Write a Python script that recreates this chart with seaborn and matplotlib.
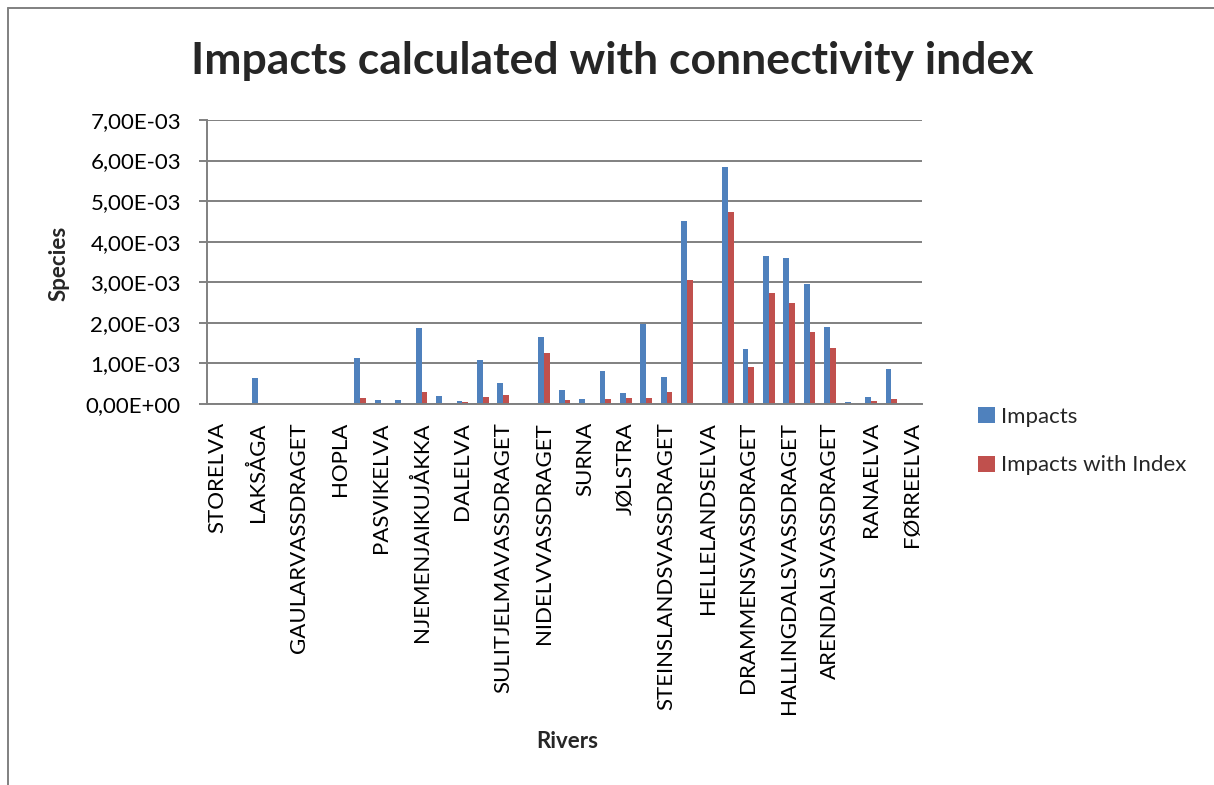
import matplotlib
matplotlib.use("Agg")
import matplotlib.pyplot as plt
from matplotlib.lines import Line2D
from matplotlib.patches import Patch
from matplotlib.ticker import FuncFormatter, MultipleLocator
import seaborn as sns
import pandas as pd

# River names printed under every second bar group
river_labels = [
    "STORELVA", "LAKSÅGA", "GAULARVASSDRAGET", "HOPLA", "PASVIKELVA",
    "NJEMENJAIKUJÅKKA", "DALELVA", "SULITJELMAVASSDRAGET", "NIDELVVASSDRAGET",
    "SURNA", "JØLSTRA", "STEINSLANDSVASSDRAGET", "HELLELANDSELVA",
    "DRAMMENSVASSDRAGET", "HALLINGDALSVASSDRAGET", "ARENDALSVASSDRAGET",
    "RANAELVA", "FØRREELVA",
]

# Impacts per river slot (35 rivers in chart order)
impacts = [
    1.0e-5, 0.0, 6.3e-4, 0.0, 0.0, 0.0, 0.0, 1.13e-3, 9.0e-5, 1.0e-4,
    1.87e-3, 2.0e-4, 8.0e-5, 1.09e-3, 5.1e-4, 2.5e-5, 1.66e-3, 3.5e-4,
    1.3e-4, 8.1e-4, 2.6e-4, 1.96e-3, 6.7e-4, 4.5e-3, 2.5e-5, 5.85e-3,
    1.35e-3, 3.65e-3, 3.59e-3, 2.97e-3, 1.9e-3, 5.0e-5, 1.7e-4, 8.6e-4,
    1.5e-5,
]

# Impacts weighted with the connectivity index
impacts_with_index = [
    0.0, 0.0, 2.5e-5, 0.0, 0.0, 0.0, 0.0, 1.56e-4, 2.5e-5, 2.5e-5,
    2.9e-4, 2.5e-5, 5.0e-5, 1.7e-4, 2.2e-4, 0.0, 1.25e-3, 1.0e-4,
    0.0, 1.3e-4, 1.4e-4, 1.4e-4, 3.0e-4, 3.06e-3, 1.0e-5, 4.73e-3,
    9.0e-4, 2.73e-3, 2.48e-3, 1.78e-3, 1.39e-3, 0.0, 7.5e-5, 1.15e-4,
    1.0e-5,
]

series_names = ["Impacts", "Impacts with Index"]
series_colors = ["#4F81BD", "#C0504D"]

slots = list(range(len(impacts)))
df = pd.DataFrame({
    "slot": slots * 2,
    "value": impacts + impacts_with_index,
    "series": [series_names[0]] * len(slots) + [series_names[1]] * len(slots),
})

sns.set_theme(style="white")
plt.rcParams["font.family"] = ["Lato", "DejaVu Sans"]

W, H = 1214, 785
fig = plt.figure(figsize=(W / 100, H / 100), dpi=100)
ax = fig.add_axes([207 / W, 1 - 404 / H, (922 - 207) / W, (404 - 120) / H])

grid_col = "#808080"

sns.barplot(
    data=df, x="slot", y="value", hue="series", hue_order=series_names,
    palette=series_colors, width=0.56, linewidth=0, saturation=1,
    legend=False, ax=ax,
)

ax.set_xlim(-0.5, len(slots) - 0.5)
ax.set_ylim(0, 7e-3)
ax.yaxis.set_major_locator(MultipleLocator(1e-3))
ax.yaxis.set_major_formatter(
    FuncFormatter(lambda v, _: f"{v:.2E}".replace(".", ","))
)
ax.grid(axis="y", color=grid_col, linewidth=1.4)
ax.set_axisbelow(True)
for side in ("top", "right"):
    ax.spines[side].set_visible(False)
for side in ("left", "bottom"):
    ax.spines[side].set_color(grid_col)
    ax.spines[side].set_linewidth(1.4)

ax.set_xticks(slots[::2])
ax.set_xticklabels(river_labels, rotation=90, va="top", ha="center")
ax.tick_params(axis="x", length=0, pad=13, labelsize=16, colors="black")
ax.tick_params(axis="y", length=5.8, width=1.4, color=grid_col,
               direction="out", left=True, pad=13, labelsize=16,
               labelcolor="black")
ax.set_xlabel("")
ax.set_ylabel("")

fig.text(612 / W, 1 - 61 / H, "Impacts calculated with connectivity index",
         ha="center", va="center", fontsize=32, fontweight="bold")
fig.text(59 / W, 1 - 263 / H, "Species", rotation=90, ha="center",
         va="center", fontsize=16, fontweight="bold")
fig.text(567 / W, 1 - 742 / H, "Rivers", ha="center", va="center",
         fontsize=16, fontweight="bold")

handles = [Patch(facecolor=c, edgecolor="none") for c in series_colors]
fig.legend(handles, series_names, loc="center left",
           bbox_to_anchor=(958 / W, 1 - 441 / H), frameon=False,
           fontsize=16, handlelength=0.75, handleheight=0.75,
           handletextpad=0.3, labelspacing=1.3)

# Chart-area border along the top and left edges
fig.add_artist(Line2D([8 / W, 1], [1 - 8 / H, 1 - 8 / H],
                      transform=fig.transFigure, color=grid_col, linewidth=1.4))
fig.add_artist(Line2D([8 / W, 8 / W], [0, 1 - 8 / H],
                      transform=fig.transFigure, color=grid_col, linewidth=1.4))

fig.savefig("out.png", dpi=100, facecolor="white")
